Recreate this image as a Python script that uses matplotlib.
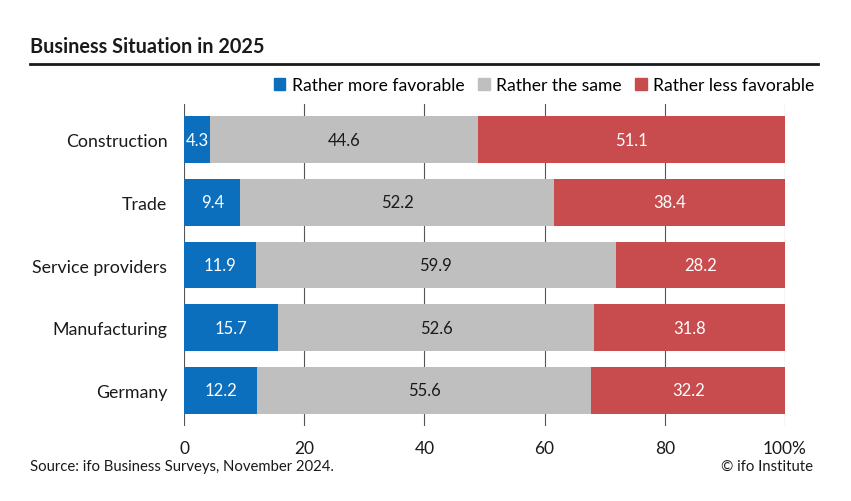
import matplotlib
matplotlib.use("Agg")
import matplotlib.pyplot as plt
import numpy as np

categories = ["Construction", "Trade", "Service providers", "Manufacturing", "Germany"]
more_favorable = [4.3, 9.4, 11.9, 15.7, 12.2]
same = [44.6, 52.2, 59.9, 52.6, 55.6]
less_favorable = [51.1, 38.4, 28.2, 31.8, 32.2]
series_names = ["Rather more favorable", "Rather the same", "Rather less favorable"]
xticks = [0, 20, 40, 60, 80, 100]
xticklabels = ["0", "20", "40", "60", "80", "100%"]

colors = ["#0b6fbe", "#bfbfbf", "#c84c4d"]
text_colors = ["white", "#1a1a1a", "white"]

plt.rcParams['font.family'] = ['Lato', 'DejaVu Sans']

fig = plt.figure(figsize=(8.51, 5.02), dpi=100)
ax = fig.add_axes([184/851, 1-427/502, (785-184)/851, (427-105)/502])

y = np.arange(len(categories))
left = np.zeros(len(categories))
for vals, col, tc in zip([more_favorable, same, less_favorable], colors, text_colors):
    vals = np.array(vals)
    ax.barh(y, vals, left=left, color=col, height=0.75, zorder=2)
    for yi, l, v in zip(y, left, vals):
        ax.text(l + v/2, yi, f"{v:.1f}", ha="center", va="center", color=tc, fontsize=12, zorder=3)
    left = left + vals

ax.set_xlim(0, 100)
ax.set_ylim(len(categories) - 1 + 0.57, -0.57)
ax.set_yticks(y)
ax.set_yticklabels(categories, fontsize=12.8, color="#1a1a1a")
ax.set_xticks(xticks)
ax.set_xticklabels(xticklabels, fontsize=12.5, color="#1a1a1a")
ax.tick_params(axis="y", length=0, pad=12)
ax.tick_params(axis="x", length=0, pad=10)
ax.grid(axis="x", color="#555555", linewidth=0.8, zorder=1)
for s in ax.spines.values():
    s.set_visible(False)

# Title and rule
fig.text(30/851, 1-47/502, "Business Situation in 2025", fontsize=14.3, fontweight="bold", ha="left", va="center", color="#1a1a1a")
fig.add_artist(plt.Line2D([30/851, 818/851], [1-65/502, 1-65/502], color="#1a1a1a", linewidth=2))

# Legend
handles = [plt.Rectangle((0, 0), 1, 1, color=c) for c in colors]
fig.legend(handles, series_names, loc="center right", bbox_to_anchor=(814/851, 1-86/502), ncol=3, frameon=False,
           fontsize=12.6, handlelength=0.65, handleheight=0.65, handletextpad=0.35, columnspacing=0.8, borderpad=0, borderaxespad=0)

fig.text(30/851, 1-467/502, "Source: ifo Business Surveys, November 2024.", fontsize=10.7, ha="left", va="center", color="#1a1a1a")
fig.text(813/851, 1-467/502, "© ifo Institute", fontsize=10.7, ha="right", va="center", color="#1a1a1a")

fig.savefig("out.png", dpi=100)
